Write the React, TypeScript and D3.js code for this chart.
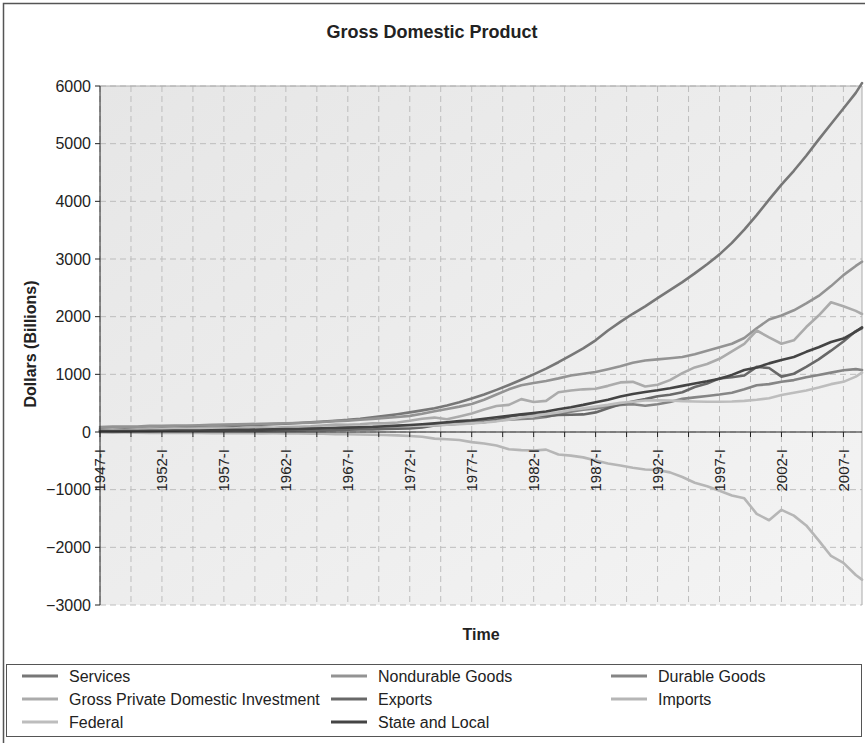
import React from 'react'
import * as d3 from 'd3'

// quarters on the category axis, 1947-I .. 2008-III
const romans = ['I', 'II', 'III', 'IV']
const lastQuarter = '2008-III'
const quarters: string[] = []
for (let yr = 1947; yr <= 2008; yr++) {
  for (const r of romans) {
    quarters.push(`${yr}-${r}`)
  }
}
quarters.splice(quarters.indexOf(lastQuarter) + 1)

const samplePoints = [...d3.range(1947, 2009).map(yr => `${yr}-I`), lastQuarter]

const services = [50, 54, 58, 61, 67, 72, 78, 84, 90, 97, 104, 111, 120, 128, 136, 146, 156, 168, 180, 195, 210, 230, 255, 280, 308, 340, 375, 412, 460, 515, 580, 650, 730, 815, 905, 1000, 1100, 1210, 1330, 1450, 1590, 1760, 1910, 2050, 2180, 2320, 2460, 2600, 2750, 2910, 3080, 3280, 3510, 3760, 4030, 4290, 4530, 4790, 5070, 5340, 5610, 5880, 6050]
const nondurableGoods = [88, 94, 95, 96, 106, 108, 113, 113, 117, 123, 129, 132, 138, 142, 145, 151, 156, 163, 173, 188, 197, 212, 228, 245, 260, 280, 315, 360, 400, 440, 485, 560, 650, 740, 810, 850, 885, 930, 980, 1010, 1040, 1090, 1140, 1200, 1240, 1260, 1280, 1300, 1350, 1410, 1470, 1530, 1630, 1800, 1950, 2020, 2110, 2230, 2360, 2530, 2720, 2880, 2953]
const durableGoods = [20, 22, 24, 27, 32, 29, 33, 32, 37, 39, 41, 38, 42, 44, 41, 45, 49, 54, 61, 66, 68, 75, 83, 84, 92, 105, 120, 123, 125, 150, 172, 190, 210, 215, 225, 235, 260, 310, 350, 385, 410, 440, 470, 480, 455, 480, 520, 575, 600, 625, 650, 680, 740, 810, 830, 870, 900, 950, 990, 1030, 1070, 1090, 1075]
const grossInvestment = [35, 45, 36, 48, 60, 54, 56, 54, 66, 72, 72, 62, 78, 82, 74, 86, 90, 98, 112, 128, 126, 134, 152, 150, 165, 195, 230, 250, 220, 268, 320, 390, 450, 470, 570, 520, 540, 690, 720, 740, 750, 800, 860, 870, 790, 820, 900, 1020, 1120, 1180, 1270, 1400, 1530, 1760, 1640, 1530, 1590, 1820, 2020, 2250, 2180, 2100, 2046]
const exportsSeries = [19, 17, 15, 12, 16, 17, 15, 15, 17, 19, 24, 20, 20, 24, 26, 27, 28, 32, 33, 37, 40, 43, 44, 55, 58, 62, 80, 115, 135, 145, 155, 170, 210, 270, 300, 295, 275, 295, 300, 305, 340, 410, 480, 530, 570, 620, 645, 690, 780, 840, 930, 950, 980, 1130, 1110, 960, 1010, 1130, 1260, 1410, 1570, 1750, 1800]
const importsSeries = [-8, -10, -9, -10, -16, -15, -16, -15, -17, -19, -20, -20, -21, -23, -22, -25, -26, -28, -30, -36, -38, -43, -48, -53, -58, -70, -83, -115, -125, -140, -175, -200, -235, -300, -315, -320, -305, -390, -410, -440, -495, -545, -580, -620, -650, -660, -700, -780, -880, -940, -1020, -1100, -1150, -1420, -1530, -1350, -1450, -1620, -1880, -2150, -2270, -2480, -2560]
const federal = [13, 16, 20, 19, 34, 47, 54, 49, 45, 46, 49, 53, 54, 53, 57, 62, 65, 67, 67, 76, 89, 98, 100, 100, 101, 107, 108, 115, 127, 137, 150, 165, 185, 215, 250, 280, 310, 340, 380, 410, 440, 470, 505, 525, 545, 550, 545, 535, 530, 525, 525, 528, 540, 560, 585, 640, 680, 720, 770, 830, 870, 960, 1030]
const stateLocal = [12, 14, 16, 18, 20, 22, 23, 25, 27, 30, 33, 36, 39, 42, 46, 49, 53, 58, 63, 69, 76, 82, 88, 100, 110, 122, 134, 150, 170, 188, 205, 228, 255, 280, 305, 330, 355, 395, 430, 470, 515, 560, 615, 660, 695, 725, 760, 800, 840, 880, 925, 990, 1075, 1120, 1190, 1248, 1300, 1390, 1470, 1560, 1620, 1740, 1815]

const seriesNames = ['Services', 'Nondurable Goods', 'Durable Goods', 'Gross Private Domestic Investment', 'Exports', 'Imports', 'Federal', 'State and Local']
const seriesValues = [services, nondurableGoods, durableGoods, grossInvestment, exportsSeries, importsSeries, federal, stateLocal]
const seriesColors = ['#777777', '#939393', '#858585', '#ababab', '#686868', '#b6b6b6', '#bdbdbd', '#444444']

const yTicks = d3.range(-3000, 6001, 1000)

const font = "'Liberation Sans', Arial, sans-serif"

export default function App() {
  const width = 865,
    height = 743,
    plot = { left: 100, right: 862, top: 86, bottom: 605 }

  const x = d3.scalePoint<string>().domain(quarters).range([plot.left, plot.right])
  const y = d3.scaleLinear().domain([-3000, 6000]).range([plot.bottom, plot.top])

  const line = d3
    .line<number>()
    .x((d, i) => x(samplePoints[i]) as number)
    .y(d => y(d))

  const gridQuarters = quarters.filter((q, i) => i % 10 === 0)
  const labelQuarters = quarters.filter((q, i) => i % 20 === 0)

  const legendCols = [22, 331, 611]
  const legendRows = [676, 699, 722]

  return (
    <svg
      width={width}
      height={height}
      style={{ position: 'absolute', left: 0, top: 0, fontFamily: font }}>
      <defs>
        <linearGradient id='plotBg' x1='0' y1='0' x2='1' y2='1'>
          <stop offset='0%' stopColor='#e6e6e6' />
          <stop offset='100%' stopColor='#f4f4f4' />
        </linearGradient>
      </defs>
      <rect width={width} height={height} fill='#fff' />
      <rect x={3.5} y={3.5} width={width + 20} height={height + 20} fill='none' stroke='#555' strokeWidth={1.5} />

      <text x={432} y={38} textAnchor='middle' fontSize={18} fontWeight='bold' fill='#222'>
        Gross Domestic Product
      </text>

      <rect
        x={plot.left}
        y={plot.top}
        width={plot.right - plot.left}
        height={plot.bottom - plot.top}
        fill='url(#plotBg)'
      />

      {/* grid */}
      {gridQuarters.map(q => (
        <line key={q} x1={x(q)} x2={x(q)} y1={plot.top} y2={plot.bottom} stroke='#bdbdbd' strokeDasharray='6,4' />
      ))}
      {yTicks.map(t => (
        <line key={t} x1={plot.left} x2={plot.right} y1={y(t)} y2={y(t)} stroke='#bdbdbd' strokeDasharray='6,4' />
      ))}
      <line x1={plot.left} x2={plot.right} y1={plot.top} y2={plot.top} stroke='#aaa' />
      <line x1={plot.right} x2={plot.right} y1={plot.top} y2={plot.bottom} stroke='#aaa' />

      {/* series */}
      {seriesValues.map((vals, i) => (
        <path
          key={seriesNames[i]}
          d={line(vals) as string}
          fill='none'
          stroke={seriesColors[i]}
          strokeWidth={2.6}
          strokeLinejoin='round'
          strokeLinecap='round'
        />
      ))}

      {/* y axis */}
      <line x1={plot.left} x2={plot.left} y1={plot.top} y2={plot.bottom} stroke='#222' />
      {yTicks.map(t => (
        <g key={t} transform={`translate(${plot.left},${y(t)})`}>
          <line x1={-5} x2={0} stroke='#222' />
          <text x={-9} dy='0.35em' textAnchor='end' fontSize={16} fill='#222'>
            {t < 0 ? `\u2212${-t}` : t}
          </text>
        </g>
      ))}
      <text
        transform={`translate(36,344) rotate(-90)`}
        textAnchor='middle'
        fontSize={16}
        fontWeight='bold'
        fill='#222'>
        Dollars (Billions)
      </text>

      {/* x axis at zero */}
      <line x1={plot.left} x2={plot.right} y1={y(0)} y2={y(0)} stroke='#222' />
      {gridQuarters.map(q => (
        <line key={q} x1={x(q)} x2={x(q)} y1={y(0)} y2={y(0) + 5} stroke='#222' />
      ))}
      {labelQuarters.map(q => (
        <text
          key={q}
          transform={`translate(${x(q)},${y(0) + 17}) rotate(-90)`}
          dy='0.35em'
          textAnchor='end'
          fontSize={15}
          fill='#222'>
          {q}
        </text>
      ))}
      <text x={481} y={640} textAnchor='middle' fontSize={16} fontWeight='bold' fill='#222'>
        Time
      </text>

      {/* legend */}
      <rect x={6.5} y={664.5} width={855} height={72} fill='#fff' stroke='#555' />
      {seriesNames.map((name, i) => {
        const cx = legendCols[i % 3],
          cy = legendRows[Math.floor(i / 3)]
        return (
          <g key={name} transform={`translate(${cx},${cy})`}>
            <line x1={0} x2={36} stroke={seriesColors[i]} strokeWidth={3} />
            <text x={47} dy='0.35em' fontSize={16} fill='#222'>
              {name}
            </text>
          </g>
        )
      })}
    </svg>
  )
}
